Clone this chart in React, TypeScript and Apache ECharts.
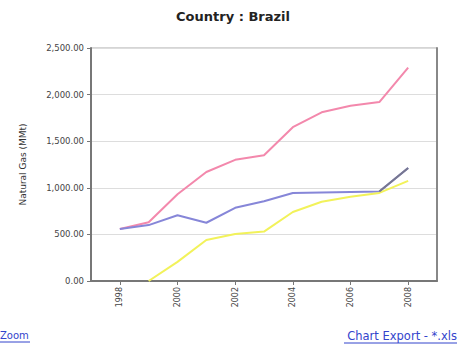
import React, { useEffect, useRef } from "react";
import * as echarts from "echarts";

const years = ["1997", "1998", "1999", "2000", "2001", "2002", "2003", "2004", "2005", "2006", "2007", "2008", "2009"];
const pinkValues = [null, 558, 630, 930, 1170, 1300, 1350, 1650, 1810, 1880, 1920, 2290, null];
const blueValues = [null, 558, 600, 705, 625, 785, 855, 944, 950, 955, 960, 1212, null];
const yellowValues = [null, null, 0, 205, 440, 504, 530, 740, 850, 905, 945, 1075, null];
const grayValues = [null, null, null, null, null, null, null, null, null, null, 960, 1212, null];
const titleText = "Country : Brazil";
const yAxisName = "Natural Gas (MMt)";
const leftLink = "Zoom";
const rightLink = "Chart Export - *.xls";

export default function App() {
  const ref = useRef<HTMLDivElement>(null);
  useEffect(() => {
    if (!ref.current) return;
    const chart = echarts.init(ref.current, null, { renderer: "svg" });
    const evenYear = (i: number) => i % 2 === 1;
    const font = "DejaVu Sans, Verdana, sans-serif";
    chart.setOption({
      animation: false,
      backgroundColor: "#ffffff",
      title: {
        text: titleText,
        left: 228,
        textAlign: "center",
        top: 5,
        textStyle: { fontSize: 13, fontWeight: "bold", color: "#222", fontFamily: font },
      },
      grid: {
        left: 91,
        top: 48,
        right: 24,
        bottom: 66,
        show: true,
        borderColor: "#aaa",
        borderWidth: 1,
        containLabel: false,
      },
      xAxis: {
        type: "category",
        data: years,
        boundaryGap: false,
        axisLine: { lineStyle: { color: "#777", width: 2 } },
        axisTick: { interval: evenYear, length: 4, lineStyle: { color: "#777" } },
        axisLabel: {
          interval: evenYear,
          rotate: 90,
          fontSize: 8,
          color: "#444",
          fontFamily: font,
          margin: 6,
        },
        splitLine: { show: false },
      },
      yAxis: [
        {
          type: "value",
          min: 0,
          max: 2500,
          interval: 500,
          name: yAxisName,
          nameLocation: "middle",
          nameRotate: 90,
          nameGap: 64,
          nameTextStyle: { fontSize: 9, color: "#333", fontFamily: font },
          axisLine: { show: true, lineStyle: { color: "#777", width: 2 } },
          axisTick: { show: true, length: 4, lineStyle: { color: "#777" } },
          axisLabel: {
            fontSize: 8.5,
            color: "#444",
            fontFamily: font,
            margin: 7,
            formatter: (v: number) =>
              v.toLocaleString("en-US", { minimumFractionDigits: 2, maximumFractionDigits: 2 }),
          },
          splitLine: { lineStyle: { color: "#ddd", width: 1 } },
        },
        {
          type: "value",
          position: "right",
          min: 0,
          max: 2500,
          interval: 500,
          axisLine: { show: true, lineStyle: { color: "#888", width: 2 } },
          axisTick: { show: false },
          axisLabel: { show: false },
          splitLine: { show: false },
        },
      ],
      series: [
        {
          type: "line",
          data: pinkValues,
          showSymbol: false,
          lineStyle: { color: "#f388ac", width: 2 },
          itemStyle: { color: "#f388ac" },
        },
        {
          type: "line",
          data: blueValues,
          showSymbol: false,
          lineStyle: { color: "#8686d8", width: 2 },
          itemStyle: { color: "#8686d8" },
        },
        {
          type: "line",
          data: yellowValues,
          showSymbol: false,
          lineStyle: { color: "#f2f25a", width: 2 },
          itemStyle: { color: "#f2f25a" },
        },
        {
          type: "line",
          data: grayValues,
          showSymbol: false,
          lineStyle: { color: "#77778f", width: 2 },
          itemStyle: { color: "#77778f" },
        },
      ],
      graphic: [
        {
          type: "text",
          left: 0,
          top: 330,
          style: { text: leftLink, fontSize: 10, fill: "#3344cc", fontFamily: font },
        },
        {
          type: "line",
          shape: { x1: 0, y1: 342, x2: 30, y2: 342 },
          style: { stroke: "#3344cc", lineWidth: 1 },
        },
        {
          type: "text",
          right: 4,
          top: 330,
          style: { text: rightLink, fontSize: 11.5, fill: "#3344cc", fontFamily: font },
        },
        {
          type: "line",
          shape: { x1: 344, y1: 343, x2: 457, y2: 343 },
          style: { stroke: "#3344cc", lineWidth: 1 },
        },
      ],
    });
    return () => chart.dispose();
  }, []);
  return (
    <div
      ref={ref}
      style={{ position: "absolute", left: 0, top: 0, width: 461, height: 347 }}
    />
  );
}
